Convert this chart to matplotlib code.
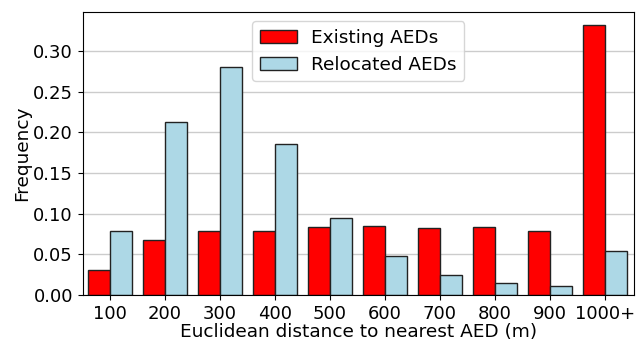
import numpy as np
import matplotlib.pyplot as plt

# distance bins and relative frequencies for each AED placement
bins = ["100", "200", "300", "400", "500", "600", "700", "800", "900", "1000+"]
existing = [0.030, 0.068, 0.078, 0.078, 0.083, 0.0845, 0.082, 0.0836, 0.079, 0.3316]
relocated = [0.0787, 0.2127, 0.2803, 0.1853, 0.0947, 0.0472, 0.0238, 0.014, 0.0103, 0.0537]

x = np.arange(len(bins))
width = 0.4
fs = 13.3

fig, ax = plt.subplots(figsize=(6.36, 3.4), dpi=100)
ax.set_axisbelow(True)
ax.grid(axis="y", color="#cccccc", linewidth=1)

ax.bar(x - width / 2, existing, width, color="red", edgecolor="#222222", linewidth=1, label="Existing AEDs")
ax.bar(x + width / 2, relocated, width, color="lightblue", edgecolor="#222222", linewidth=1, label="Relocated AEDs")

ax.set_xticks(x)
ax.set_xticklabels(bins, fontsize=13)
ax.set_xlim(-0.49, 9.53)
ax.set_yticks([0, 0.05, 0.10, 0.15, 0.20, 0.25, 0.30])
ax.set_yticklabels(["0.00", "0.05", "0.10", "0.15", "0.20", "0.25", "0.30"], fontsize=13)
ax.set_xlabel("Euclidean distance to nearest AED (m)", fontsize=fs, labelpad=0)
ax.set_ylabel("Frequency", fontsize=fs, labelpad=1)
ax.legend(loc="upper center", fontsize=fs)

plt.subplots_adjust(left=0.13, right=0.997, top=0.965, bottom=0.133)
fig.savefig("out.png")
